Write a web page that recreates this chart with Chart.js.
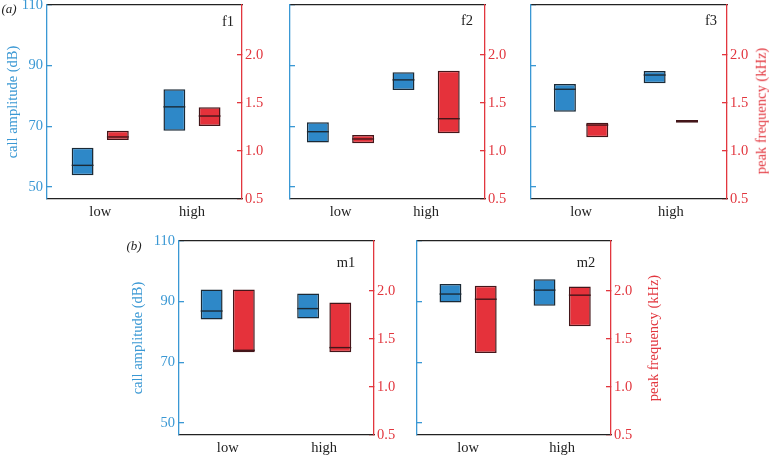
<!DOCTYPE html>
<html><head><meta charset="utf-8">
<script src="https://cdn.jsdelivr.net/npm/chart.js@4.4.1/dist/chart.umd.min.js"></script>
<style>
html,body{margin:0;padding:0;background:#fff;}
#wrap{position:relative;width:770px;height:455px;overflow:hidden;background:#fff;}
canvas{position:absolute;}
.t{position:absolute;font-family:'Liberation Serif',serif;white-space:nowrap;line-height:1;transform:translate(-50%,-50%);}
</style></head><body><div id="wrap"></div>
<script>
// ---- data ----
const categories = ['low', 'high'];
const ampTicks = [50, 70, 90, 110];
const freqTicks = [0.5, 1.0, 1.5, 2.0];

const f1AmpBox = [[53.8, 62.9], [68.5, 82.2]];
const f1AmpMed = [57.1, 76.4];
const f1FreqBox = [[1.114, 1.211], [1.260, 1.455]];
const f1FreqMed = [1.146, 1.364];

const f2AmpBox = [[64.6, 71.3], [82.0, 87.8]];
const f2AmpMed = [68.2, 85.3];
const f2FreqBox = [[1.080, 1.166], [1.184, 1.836]];
const f2FreqMed = [1.125, 1.336];

const f3AmpBox = [[74.8, 83.9], [84.2, 88.2]];
const f3AmpMed = [82.2, 86.9];
const f3FreqBox = [[1.142, 1.294], [1.294, 1.323]];
const f3FreqMed = [1.270, 1.309];

const m1AmpBox = [[84.1, 94.0], [84.4, 92.7]];
const m1AmpMed = [86.9, 87.7];
const m1FreqBox = [[1.361, 2.016], [1.361, 1.880]];
const m1FreqMed = [1.382, 1.410];

const m2AmpBox = [[89.7, 95.8], [88.6, 97.4]];
const m2AmpMed = [92.5, 93.8];
const m2FreqBox = [[1.354, 2.053], [1.633, 2.047]];
const m2FreqMed = [1.914, 1.956];

// ---- styles / layout ----
const FONT = 'Liberation Serif';
const FS = 14.5;
const BLUE_FILL = '#2e88c8', BLUE_EDGE = '#1b2a36';
const RED_FILL = '#e5323b', RED_EDGE = '#44161a';
const BLUE_AXIS = '#3a98d4', RED_AXIS = '#e2363e';
const BLACK = '#222';

const panels = [
  {name:'f1', amp:f1AmpBox, ampMed:f1AmpMed, freq:f1FreqBox, freqMed:f1FreqMed,
   L:47, T:5, R:242, B:199, Wl:47, Wr:32, Tp:5, xMin:0.42, xMax:2.545, cat:0.768, bar:0.62, leftLabels:true, titlePad:4.3},
  {name:'f2', amp:f2AmpBox, ampMed:f2AmpMed, freq:f2FreqBox, freqMed:f2FreqMed,
   L:290.3, T:5, R:485, B:199, Wl:20, Wr:32, Tp:5, xMin:0.41, xMax:2.688, cat:1.057, bar:0.485, leftLabels:false},
  {name:'f3', amp:f3AmpBox, ampMed:f3AmpMed, freq:f3FreqBox, freqMed:f3FreqMed,
   L:531, T:5, R:726.7, B:199, Wl:20, Wr:43, Tp:5, xMin:0.442, xMax:2.626, cat:0.721, bar:0.68, leftLabels:false},
  {name:'m1', amp:m1AmpBox, ampMed:m1AmpMed, freq:m1FreqBox, freqMed:m1FreqMed,
   L:179, T:241, R:374, B:434.5, Wl:50, Wr:32, Tp:10, xMin:0.495, xMax:2.516, cat:0.667, bar:0.68, leftLabels:true, titlePad:0},
  {name:'m2', amp:m2AmpBox, ampMed:m2AmpMed, freq:m2FreqBox, freqMed:m2FreqMed,
   L:417.3, T:241, R:611.7, B:435, Wl:20, Wr:32, Tp:10, xMin:0.457, xMax:2.519, cat:0.75, bar:0.62, leftLabels:false}
];

const medianPlugin = {
  id: 'medians',
  afterDatasetsDraw(chart) {
    const ctx = chart.ctx;
    chart.data.datasets.forEach((ds, d) => {
      const meta = chart.getDatasetMeta(d);
      const ys = chart.scales[ds.yAxisID];
      meta.data.forEach((bar, i) => {
        const p = bar.getProps(['x', 'width'], true);
        const y = ys.getPixelForValue(ds.medians[i]);
        ctx.save();
        ctx.strokeStyle = ds.borderColor;
        ctx.lineWidth = 1.4;
        ctx.beginPath();
        ctx.moveTo(p.x - p.width / 2, y);
        ctx.lineTo(p.x + p.width / 2, y);
        ctx.stroke();
        ctx.restore();
      });
    });
  }
};

const wrap = document.getElementById('wrap');
const HB = 28;

function addText(txt, x, y, extra) {
  const d = document.createElement('div');
  d.className = 't';
  d.textContent = txt;
  d.style.left = x + 'px';
  d.style.top = y + 'px';
  Object.assign(d.style, extra || {});
  wrap.appendChild(d);
  return d;
}

panels.forEach(p => {
  const cv = document.createElement('canvas');
  const w = p.Wl + (p.R - p.L) + p.Wr;
  const h = p.Tp + (p.B - p.T) + HB;
  cv.width = Math.round(w); cv.height = Math.round(h);
  cv.style.left = (p.L - p.Wl) + 'px';
  cv.style.top = (p.T - p.Tp) + 'px';
  cv.style.width = Math.round(w) + 'px';
  cv.style.height = Math.round(h) + 'px';
  wrap.appendChild(cv);

  const mk = (box) => categories.map((c, i) => ({x: i + 1, y: box[i]}));

  new Chart(cv, {
    type: 'bar',
    data: {
      datasets: [
        {label: 'call amplitude', data: mk(p.amp), medians: p.ampMed, yAxisID: 'yL',
         backgroundColor: BLUE_FILL, borderColor: BLUE_EDGE, borderWidth: 1.5, borderSkipped: false,
         categoryPercentage: p.cat, barPercentage: p.bar},
        {label: 'peak frequency', data: mk(p.freq), medians: p.freqMed, yAxisID: 'yR',
         backgroundColor: RED_FILL, borderColor: RED_EDGE, borderWidth: 1.5, borderSkipped: false,
         categoryPercentage: p.cat, barPercentage: p.bar}
      ]
    },
    options: {
      responsive: false,
      animation: false,
      devicePixelRatio: 1,
      layout: {padding: {top: p.Tp, left: 0, right: 0, bottom: 0}},
      plugins: {legend: {display: false}, tooltip: {enabled: false}},
      font: {family: FONT, size: FS},
      scales: {
        x: {
          type: 'linear', position: 'bottom', min: p.xMin, max: p.xMax, offset: false,
          grid: {display: false, drawTicks: false, offset: false},
          border: {display: true, color: BLACK, width: 1.3},
          afterBuildTicks: s => { s.ticks = categories.map((c, i) => ({value: i + 1})); },
          ticks: {autoSkip: false, maxRotation: 0, padding: 4, color: BLACK,
                  font: {family: FONT, size: FS},
                  callback: v => categories[Math.round(v) - 1] ?? ''},
          afterFit: s => { s.height = HB; s.paddingLeft = 0; s.paddingRight = 0; }
        },
        xTop: {
          type: 'linear', position: 'top', min: p.xMin, max: p.xMax, offset: false,
          grid: {display: false, drawTicks: false},
          border: {display: true, color: BLACK, width: 1.3},
          ticks: {display: false},
          afterFit: s => { s.height = 0; s.paddingLeft = 0; s.paddingRight = 0; }
        },
        yL: {
          type: 'linear', position: 'left', min: 46, max: 110,
          afterBuildTicks: s => { s.ticks = ampTicks.map(v => ({value: v})); },
          grid: {display: true, drawOnChartArea: false, drawTicks: true, tickLength: -5, color: BLUE_AXIS, lineWidth: 1.3},
          border: {display: true, color: BLUE_AXIS, width: 1.3},
          ticks: {color: BLUE_AXIS, padding: 9, font: {family: FONT, size: FS},
                  callback: v => p.leftLabels ? String(v) : ''},
          title: {display: p.leftLabels, text: 'call amplitude (dB)', color: BLUE_AXIS,
                  font: {family: FONT, size: FS}, padding: {top: p.titlePad || 0, bottom: 0}},
          afterFit: s => { s.width = p.Wl; s.paddingTop = 0; s.paddingBottom = 0; }
        },
        yR: {
          type: 'linear', position: 'right', min: 0.5, max: 2.52,
          afterBuildTicks: s => { s.ticks = freqTicks.map(v => ({value: v})); },
          grid: {display: true, drawOnChartArea: false, drawTicks: true, tickLength: -5, color: RED_AXIS, lineWidth: 1.3},
          border: {display: true, color: RED_AXIS, width: 1.3},
          ticks: {color: RED_AXIS, padding: 8, font: {family: FONT, size: FS},
                  callback: v => Number(v).toFixed(1)},
          afterFit: s => { s.width = p.Wr; s.paddingTop = 0; s.paddingBottom = 0; }
        }
      }
    },
    plugins: [medianPlugin]
  });
});

// panel names and figure letters
addText('f1', 228, 21, {fontSize: FS + 'px', color: BLACK});
addText('f2', 467, 20, {fontSize: FS + 'px', color: BLACK});
addText('f3', 711, 20, {fontSize: FS + 'px', color: BLACK});
addText('m1', 346, 262, {fontSize: FS + 'px', color: BLACK});
addText('m2', 586, 262, {fontSize: FS + 'px', color: BLACK});
addText('(a)', 9, 8, {fontSize: '13px', fontStyle: 'italic', color: BLACK});
addText('(b)', 134, 245, {fontSize: '13px', fontStyle: 'italic', color: BLACK});
addText('peak frequency (kHz)', 761, 111, {fontSize: FS + 'px', color: RED_AXIS, transform: 'translate(-50%,-50%) rotate(-90deg)'});
addText('peak frequency (kHz)', 653, 337.5, {fontSize: FS + 'px', color: RED_AXIS, transform: 'translate(-50%,-50%) rotate(-90deg)'});
</script></body></html>
